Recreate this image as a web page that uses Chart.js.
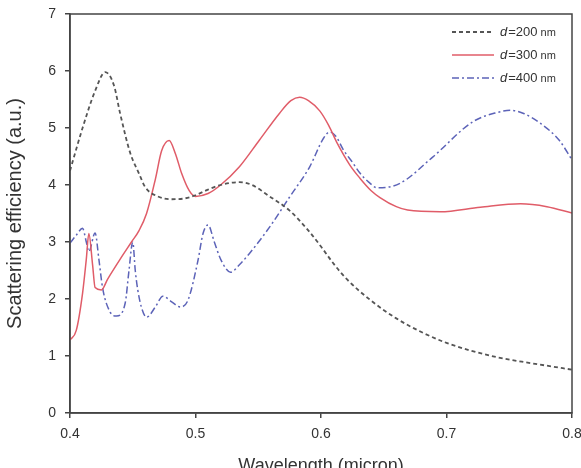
<!DOCTYPE html>
<html>
<head>
<meta charset="utf-8">
<script src="https://cdn.jsdelivr.net/npm/chart.js@4.4.1/dist/chart.umd.min.js"></script>
<style>
  html, body { margin: 0; padding: 0; background: #fff; }
  #wrap { width: 581px; height: 468px; }
</style>
</head>
<body>
<div id="wrap"><canvas id="plot"></canvas></div>
<script>
// wavelength (micron) / scattering efficiency
const wl200 = [0.400, 0.410, 0.420, 0.428, 0.435, 0.440, 0.448, 0.455, 0.460, 0.470, 0.480, 0.490, 0.500, 0.510, 0.520, 0.535, 0.545, 0.559, 0.575, 0.590, 0.600, 0.610, 0.620, 0.640, 0.660, 0.680, 0.700, 0.720, 0.740, 0.760, 0.780, 0.800];
const eff200 = [4.25, 5.0, 5.65, 5.98, 5.75, 5.25, 4.56, 4.2, 3.96, 3.8, 3.75, 3.76, 3.82, 3.92, 4.0, 4.05, 4.0, 3.8, 3.55, 3.2, 2.92, 2.62, 2.36, 1.97, 1.66, 1.42, 1.23, 1.09, 0.98, 0.9, 0.83, 0.76];

const wl300 = [0.400, 0.405, 0.410, 0.413, 0.415, 0.418, 0.420, 0.425, 0.430, 0.440, 0.449, 0.455, 0.461, 0.468, 0.473, 0.479, 0.484, 0.489, 0.495, 0.500, 0.510, 0.520, 0.535, 0.551, 0.567, 0.576, 0.583, 0.590, 0.599, 0.606, 0.613, 0.623, 0.631, 0.640, 0.647, 0.660, 0.669, 0.695, 0.727, 0.759, 0.780, 0.800];
const eff300 = [1.28, 1.45, 2.1, 2.7, 3.15, 2.6, 2.2, 2.16, 2.35, 2.7, 3.0, 3.2, 3.5, 4.1, 4.6, 4.78, 4.55, 4.2, 3.9, 3.8, 3.85, 4.0, 4.32, 4.79, 5.26, 5.48, 5.54, 5.48, 5.3, 5.05, 4.73, 4.35, 4.12, 3.9, 3.78, 3.62, 3.56, 3.53, 3.61, 3.67, 3.62, 3.51];

const wl400 = [0.400, 0.405, 0.410, 0.413, 0.415, 0.420, 0.423, 0.426, 0.432, 0.437, 0.444, 0.447, 0.450, 0.452, 0.454, 0.457, 0.461, 0.468, 0.474, 0.481, 0.488, 0.494, 0.502, 0.506, 0.510, 0.515, 0.520, 0.528, 0.535, 0.543, 0.559, 0.575, 0.591, 0.602, 0.607, 0.612, 0.618, 0.625, 0.631, 0.638, 0.645, 0.663, 0.689, 0.721, 0.740, 0.751, 0.762, 0.775, 0.790, 0.800];
const eff400 = [2.98, 3.12, 3.24, 3.0, 2.83, 3.16, 2.7, 2.19, 1.77, 1.7, 1.93, 2.5, 3.0, 2.5, 2.16, 1.85, 1.68, 1.86, 2.05, 1.95, 1.86, 1.98, 2.68, 3.15, 3.3, 3.0, 2.7, 2.47, 2.6, 2.8, 3.26, 3.79, 4.32, 4.82, 4.93, 4.85, 4.61, 4.4, 4.21, 4.05, 3.95, 4.03, 4.49, 5.11, 5.27, 5.31, 5.25, 5.08, 4.78, 4.44];

const seriesNames = ["=200", "=300", "=400"];
const xTicks = [0.4, 0.5, 0.6, 0.7, 0.8];
const yTicks = [0, 1, 2, 3, 4, 5, 6, 7];

const FONT = "'Liberation Sans', Arial, sans-serif";

function pts(xs, ys) {
  return xs.map((x, i) => ({ x: x, y: ys[i] }));
}

// box around the plot + legend with italic "d"
const framePlugin = {
  id: "frame_and_legend",
  afterDraw: (chart) => {
    const ctx = chart.ctx;
    const a = chart.chartArea;
    ctx.save();
    ctx.strokeStyle = "#444";
    ctx.lineWidth = 1.5;
    ctx.strokeRect(a.left, a.top, a.right - a.left, a.bottom - a.top);

    const x0 = a.right - 120;
    let y = a.top + 18;
    chart.data.datasets.forEach((ds) => {
      ctx.strokeStyle = ds.borderColor;
      ctx.lineWidth = ds.borderWidth;
      ctx.setLineDash(ds.borderDash || []);
      ctx.beginPath();
      ctx.moveTo(x0, y);
      ctx.lineTo(x0 + 42, y);
      ctx.stroke();
      ctx.setLineDash([]);
      ctx.fillStyle = "#333";
      ctx.textBaseline = "middle";
      let tx = x0 + 48;
      ctx.font = "italic 13px " + FONT;
      ctx.fillText("d", tx, y);
      tx += ctx.measureText("d").width + 1;
      ctx.font = "13px " + FONT;
      ctx.fillText(ds.label, tx, y);
      tx += ctx.measureText(ds.label).width + 3;
      ctx.font = "11px " + FONT;
      ctx.fillText("nm", tx, y + 1);
      y += 23;
    });
    ctx.restore();
  },
};

const ctx = document.getElementById("plot").getContext("2d");
const chart = new Chart(ctx, {
  type: "line",
  plugins: [framePlugin],
  data: {
    datasets: [
      {
        label: seriesNames[0],
        data: pts(wl200, eff200),
        borderColor: "#555",
        borderWidth: 1.8,
        borderDash: [4, 3],
      },
      {
        label: seriesNames[1],
        data: pts(wl300, eff300),
        borderColor: "#e05c68",
        borderWidth: 1.5,
      },
      {
        label: seriesNames[2],
        data: pts(wl400, eff400),
        borderColor: "#5c63b8",
        borderWidth: 1.5,
        borderDash: [7, 3, 2, 3],
      },
    ],
  },
  options: {
    animation: false,
    responsive: true,
    maintainAspectRatio: false,
    devicePixelRatio: 1,
    elements: {
      point: { radius: 0 },
      line: { cubicInterpolationMode: "monotone", fill: false },
    },
    layout: { padding: { left: 0, right: 9, top: 14, bottom: 0 } },
    plugins: {
      legend: { display: false },
      tooltip: { enabled: false },
    },
    scales: {
      x: {
        type: "linear",
        min: 0.4,
        max: 0.8,
        afterBuildTicks: (s) => { s.ticks = xTicks.map((v) => ({ value: v })); },
        afterFit: (s) => {
          s.height = 55;
          s.paddingLeft = 0;
          s.paddingRight = 0;
        },
        border: { color: "#444", width: 1.5 },
        grid: { drawOnChartArea: false, tickLength: 5, color: "#444", lineWidth: 1.5 },
        ticks: {
          color: "#333",
          font: { family: FONT, size: 14 },
          padding: 8,
          maxRotation: 0,
          callback: (v) => v.toFixed(1),
        },
        title: {
          display: true,
          text: "Wavelength (micron)",
          color: "#333",
          font: { family: FONT, size: 18 },
          padding: { top: 0, bottom: -9 },
        },
      },
      y: {
        min: 0,
        max: 7,
        afterBuildTicks: (s) => { s.ticks = yTicks.map((v) => ({ value: v })); },
        afterFit: (s) => {
          s.width = 70;
          s.paddingTop = 0;
          s.paddingBottom = 0;
        },
        border: { color: "#444", width: 1.5 },
        grid: { drawOnChartArea: false, tickLength: 5, color: "#444", lineWidth: 1.5 },
        ticks: {
          color: "#333",
          font: { family: FONT, size: 14 },
          padding: 9,
        },
        title: {
          display: true,
          text: "Scattering efficiency (a.u.)",
          color: "#333",
          font: { family: FONT, size: 20 },
          padding: { top: 3, bottom: 0 },
        },
      },
    },
  },
});
</script>
</body>
</html>
